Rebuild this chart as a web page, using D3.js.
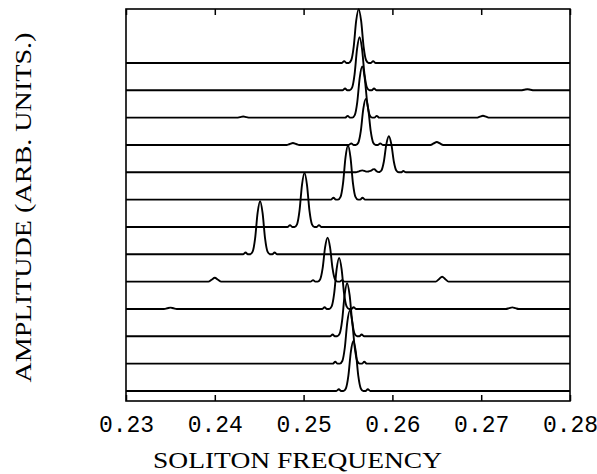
<!DOCTYPE html>
<html>
<head>
<meta charset="utf-8">
<script src="https://cdn.jsdelivr.net/npm/d3@7"></script>
<style>
  body { margin: 0; background: #fff; }
  svg { display: block; }
</style>
</head>
<body>
<div class="chart"></div>
<script>
(function(){

// tick values of the frequency axis
var freqTicks = [0.23, 0.24, 0.25, 0.26, 0.27, 0.28];

// main peak of every trace, top trace first
var peakFreq = [0.2562, 0.2563, 0.2566, 0.2570, 0.2596, 0.2550, 0.2501,
                0.2451, 0.2527, 0.2540, 0.2549, 0.2552, 0.2556];
var peakAmp  = [1.97, 1.94, 1.87, 1.68, 1.32, 1.98, 1.98,
                1.94, 1.61, 1.87, 1.94, 1.94, 1.83];

// small extra peaks [freq, amp] per trace
var minorPeaks = [
    [],
    [[0.2752, 0.04]],
    [[0.2702, 0.07], [0.2432, 0.04]],
    [[0.2650, 0.11], [0.2488, 0.07]],
    [[0.2566, 0.07], [0.2578, 0.09]],
    [],
    [],
    [],
    [[0.2400, 0.14], [0.2656, 0.18]],
    [[0.2350, 0.05], [0.2735, 0.06]],
    [],
    [],
    []
];

// line shape of a main peak (offset in freq, relative height)
var peakOffsets = [-0.0024, -0.00192, -0.00163, -0.00138, -0.00112, -0.00084, -0.00056, -0.00028, 0,
                    0.00028, 0.00056, 0.00084, 0.00112, 0.00138, 0.00163, 0.00192, 0.0024];
var peakShape   = [0, 0, 0.035, 0, 0, 0.05, 0.3, 0.78, 1,
                   0.78, 0.3, 0.05, 0, 0, 0.035, 0, 0];
// line shape of a small bump
var bumpOffsets = [-0.00072, -0.00036, 0, 0.00036, 0.00072];
var bumpShape   = [0, 0.5, 1, 0.5, 0];

var width = 597,
    height = 474,
    margin = {top: 9, right: 27, bottom: 73, left: 126};

var svg = d3.select(".chart")
    .append("svg")
    .attr("width", width)
    .attr("height", height);

var x = d3.scaleLinear()
    .domain([0.23, 0.28])
    .range([margin.left, width - margin.right]);

var nTraces = peakFreq.length;
// each trace sits one unit above the next
var y = d3.scaleLinear()
    .domain([0, 14.34])
    .range([height - margin.bottom, margin.top]);

var peakScale = d3.scaleLinear().domain(peakOffsets).range(peakShape).clamp(true);
var bumpScale = d3.scaleLinear().domain(bumpOffsets).range(bumpShape).clamp(true);

function buildTrace(i){
    var comps = [{f: peakFreq[i], a: peakAmp[i], s: peakScale, o: peakOffsets}];
    minorPeaks[i].forEach(function(m){
        comps.push({f: m[0], a: m[1], s: bumpScale, o: bumpOffsets});
    });
    var xs = [0.23, 0.28];
    comps.forEach(function(c){
        c.o.forEach(function(o){ xs.push(c.f + o); });
    });
    xs = Array.from(new Set(xs.map(function(v){ return +v.toFixed(6); })))
        .filter(function(v){ return v >= 0.23 && v <= 0.28; })
        .sort(d3.ascending);
    var base = 0.366 + (nTraces - 1 - i);
    return xs.map(function(f){
        var v = 0;
        comps.forEach(function(c){ v += c.a * c.s(f - c.f); });
        return [f, base + v];
    });
}

var line = d3.line()
    .x(function(d){ return x(d[0]); })
    .y(function(d){ return y(d[1]); })
    .curve(d3.curveMonotoneX);

svg.selectAll(".trace")
    .data(d3.range(nTraces).map(buildTrace))
    .enter()
    .append("path")
    .attr("class", "trace")
    .attr("d", line)
    .attr("fill", "none")
    .attr("stroke", "#000")
    .attr("stroke-width", 1.9)
    .attr("stroke-linejoin", "round");

// frame
svg.append("rect")
    .attr("x", margin.left)
    .attr("y", margin.top)
    .attr("width", width - margin.left - margin.right)
    .attr("height", height - margin.top - margin.bottom)
    .attr("fill", "none")
    .attr("stroke", "#000")
    .attr("stroke-width", 1.6);

var bottomAxis = svg.append("g")
    .attr("transform", "translate(0," + (height - margin.bottom) + ")")
    .call(d3.axisBottom(x)
        .tickValues(freqTicks)
        .tickSize(-6)
        .tickPadding(15)
        .tickFormat(d3.format(".2f")));

var topAxis = svg.append("g")
    .attr("transform", "translate(0," + margin.top + ")")
    .call(d3.axisTop(x)
        .tickValues(freqTicks)
        .tickSize(-6)
        .tickFormat(""));

[bottomAxis, topAxis].forEach(function(g){
    g.select(".domain").remove();
    g.selectAll(".tick line").attr("stroke", "#000").attr("stroke-width", 1.5);
});
bottomAxis.selectAll(".tick text")
    .attr("fill", "#000")
    .style("font-family", "'Liberation Mono', 'DejaVu Sans Mono', monospace")
    .style("font-size", "23px");

svg.append("text")
    .attr("x", 297.5)
    .attr("y", 468)
    .attr("text-anchor", "middle")
    .attr("textLength", 289)
    .attr("lengthAdjust", "spacingAndGlyphs")
    .style("font-family", "'Liberation Serif', 'DejaVu Serif', serif")
    .style("font-size", "23px")
    .text("SOLITON FREQUENCY");

svg.append("text")
    .attr("transform", "translate(31,207.5) rotate(-90)")
    .attr("text-anchor", "middle")
    .attr("textLength", 350)
    .attr("lengthAdjust", "spacingAndGlyphs")
    .style("font-family", "'Liberation Serif', 'DejaVu Serif', serif")
    .style("font-size", "23px")
    .text("AMPLITUDE (ARB. UNITS.)");

})();
</script>
</body>
</html>
